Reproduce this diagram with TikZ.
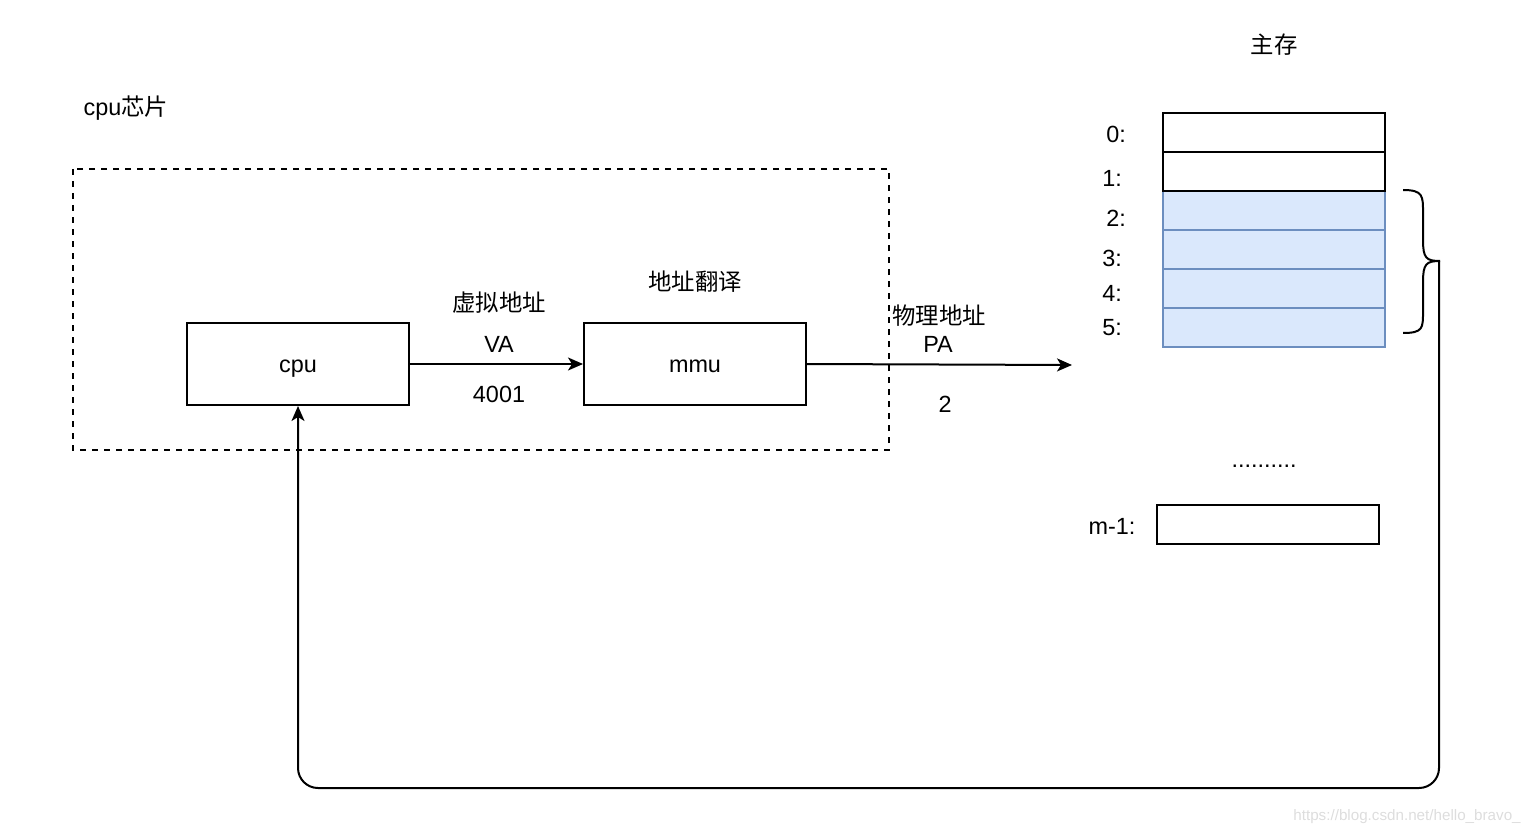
\documentclass[tikz,border=0pt]{standalone}
\usepackage{fontspec}
\setmainfont{Liberation Sans}
\newfontfamily\cjk{Noto Sans CJK SC}
\usetikzlibrary{arrows.meta}
\definecolor{bluefill}{HTML}{DAE8FC}
\definecolor{bluestroke}{HTML}{6C8EBF}
\definecolor{wmgray}{HTML}{DDDDDD}
\begin{document}
\begin{tikzpicture}[x=0.5pt,y=-0.5pt,
  box/.style={draw,line width=1pt,minimum width=111pt,minimum height=41pt,inner sep=0pt,text height=10pt,text depth=2pt,font=\fontsize{11.7}{14}\selectfont},
  cell/.style={draw,line width=1pt,minimum width=111pt,minimum height=19.5pt,inner sep=0pt},
  bcell/.style={cell,draw=bluestroke,fill=bluefill},
  lbl/.style={inner sep=0pt,font=\fontsize{11.7}{14}\selectfont},
  arr/.style={line width=1pt,-{Stealth[length=7.5pt,width=6.5pt,inset=2pt]}},
]
\useasboundingbox (0,0) rectangle (1534,834);
% chip
\draw[line width=1pt,dash pattern=on 3pt off 3pt] (73,169) rectangle (889,450);
\node[lbl] (chiplbl) at (126,108) {cpu{\cjk 芯片}};
\node[box] (cpu) at (298,364) {cpu};
\node[box] (mmu) at (695,364) {mmu};
\draw[arr] (cpu) -- (mmu);
\node[lbl] (va1) at (499,303) {\cjk 虚拟地址};
\node[lbl] (va2) at (499,344) {VA};
\node[lbl] (va3) at (499,394) {4001};
\node[lbl] (tr) at (695,282) {\cjk 地址翻译};
\coordinate (paend) at (1072,365);
\draw[arr] (mmu.east) -- (paend);
\node[lbl] (pa1) at (939,316) {\cjk 物理地址};
\node[lbl] (pa2) at (938,344) {PA};
\node[lbl] (pa3) at (945,404) {2};
% memory
\node[lbl] (mainlbl) at (1274,45) {\cjk 主存};
\node[bcell] (m2) at (1274,210.5) {};
\node[bcell] (m3) at (1274,249.5) {};
\node[bcell] (m4) at (1274,288.5) {};
\node[bcell] (m5) at (1274,327.5) {};
\node[cell] (m0) at (1274,132.5) {};
\node[cell] (m1) at (1274,171.5) {};
\node[cell] (mlast) at (1268,524) {};
\node[lbl] (l0) at (1116,134) {0:};
\node[lbl] (l1) at (1112,178) {1:};
\node[lbl] (l2) at (1116,218) {2:};
\node[lbl] (l3) at (1112,258) {3:};
\node[lbl] (l4) at (1112,293) {4:};
\node[lbl] (l5) at (1112,328) {5:};
\node[lbl] (dots) at (1264,466) {..........};
\node[lbl] (lm) at (1112,526) {m-1:};
% brace
\coordinate (tip) at (1440,261);
\draw[line width=1pt] (1403,190) .. controls (1423,190) and (1423,196) .. (1423,212) -- (1423,240) .. controls (1423,258) and (1426,261) .. (tip)
  .. controls (1426,261) and (1423,264) .. (1423,282) -- (1423,312) .. controls (1423,328) and (1423,333) .. (1403,333);
\draw[arr,rounded corners=10pt] (1439,261) -- (1439,788) -- (298,788) -- (cpu.south);
% watermark
\node[inner sep=0pt,text=wmgray,font=\fontsize{7.6}{9}\selectfont] (wm) at (1407,817) {https://blog.csdn.net/hello\_bravo\_};
\end{tikzpicture}
\end{document}
